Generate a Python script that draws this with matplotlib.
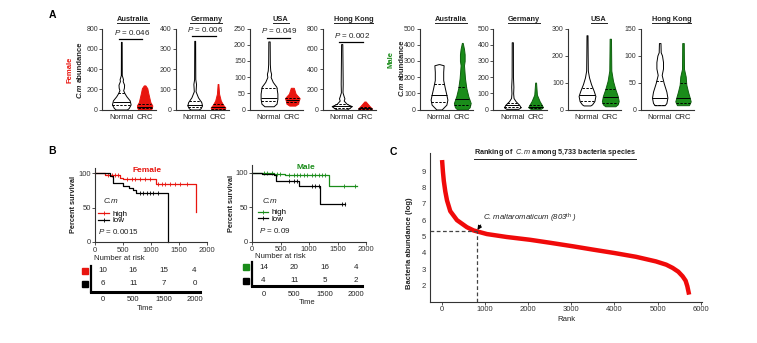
import numpy as np
import matplotlib
matplotlib.use('Agg')
import matplotlib.pyplot as plt
from matplotlib.lines import Line2D
from matplotlib.transforms import blended_transform_factory

plt.rcParams['font.family'] = ['Liberation Sans', 'DejaVu Sans']
plt.rcParams['mathtext.fontset'] = 'custom'
plt.rcParams['mathtext.rm'] = 'Liberation Sans'
plt.rcParams['mathtext.it'] = 'Liberation Sans:italic'
plt.rcParams['mathtext.bf'] = 'Liberation Sans:bold'

# ---------------- data ----------------
countries = ['Australia', 'Germany', 'USA', 'Hong Kong']
groups = ['Normal', 'CRC']

female_ymax = [800, 400, 250, 800]
female_ystep = [200, 100, 50, 200]
female_pvals = ['0.046', '0.006', '0.049', '0.002']
female_pbar = [700, 365, 222, 670]
male_ymax = [500, 500, 300, 150]
male_ystep = [100, 100, 100, 50]

# violin outlines: abundance levels and relative half-widths; quartiles (q1, median, q3)
female_normal_levels = [[0, 15, 50, 90, 130, 160, 190, 215, 245, 280, 300, 340, 668],
                        [0, 6, 20, 36, 60, 90, 126, 150, 339],
                        [10, 18, 33, 49, 70, 85, 100, 110, 120, 140, 210],
                        [0, 13, 33, 56, 88, 110, 130, 170, 252, 646]]
female_normal_widths = [[0.6, 0.8, 1.0, 0.9, 0.55, 0.35, 0.2, 0.28, 0.3, 0.15, 0.18, 0.05, 0.04],
                        [0.55, 0.8, 1.0, 0.9, 0.45, 0.12, 0.18, 0.08, 0.06],
                        [0.55, 0.9, 1.0, 1.0, 0.88, 0.45, 0.2, 0.25, 0.15, 0.1, 0.08],
                        [0.5, 0.73, 1.0, 0.5, 0.2, 0.27, 0.2, 0.08, 0.1, 0.06]]
female_normal_quart = [(45, 75, 160), (11, 23, 40), (25, 35, 65), (18, 33, 50)]

female_crc_levels = [[0, 13, 40, 73, 122, 172, 210, 238],
                     [0, 10, 23, 44, 77, 100, 126],
                     [12, 18, 25, 35, 49, 60, 67],
                     [0, 13, 33, 56, 79]]
female_crc_widths = [[0.8, 0.95, 1.0, 0.75, 0.6, 0.45, 0.35, 0.1],
                     [0.9, 1.0, 0.7, 0.38, 0.15, 0.1, 0.05],
                     [0.4, 0.8, 0.85, 1.0, 0.45, 0.3, 0.2],
                     [1.0, 1.0, 0.7, 0.4, 0.1]]
female_crc_quart = [(10, 25, 55), (4, 12, 28), (22, 28, 35), (5, 12, 25)]

male_normal_levels = [[0, 10, 30, 61, 91, 132, 182, 233, 273, 280],
                      [4, 14, 30, 51, 71, 100, 140, 200, 415],
                      [15, 19, 31, 50, 69, 94, 119, 144, 200, 275],
                      [8, 12, 22, 33, 49, 64, 76, 88, 100, 106, 123]]
male_normal_widths = [[0.32, 0.5, 0.88, 1.0, 0.88, 0.7, 0.5, 0.5, 0.55, 0.05],
                      [0.72, 1.0, 0.8, 0.4, 0.15, 0.1, 0.13, 0.08, 0.07],
                      [0.4, 0.6, 0.88, 1.0, 0.8, 0.48, 0.24, 0.1, 0.08, 0.06],
                      [0.65, 0.87, 1.0, 0.87, 0.52, 0.26, 0.43, 0.43, 0.3, 0.13, 0.1]]
male_normal_quart = [(45, 87, 160), (14, 26, 40), (31, 54, 81), (9, 22, 52)]

male_crc_levels = [[0, 14, 40, 81, 132, 192, 273, 300, 340, 374, 411],
                   [4, 14, 30, 51, 91, 166],
                   [12, 19, 31, 50, 75, 106, 144, 200, 262],
                   [8, 15, 22, 33, 46, 61, 75, 90, 123]]
male_crc_widths = [[0.6, 0.88, 1.0, 0.72, 0.48, 0.32, 0.2, 0.28, 0.28, 0.2, 0.05],
                   [0.7, 1.0, 0.82, 0.55, 0.18, 0.06],
                   [0.6, 0.88, 1.0, 0.88, 0.6, 0.32, 0.12, 0.1, 0.08],
                   [0.78, 1.0, 0.87, 0.65, 0.43, 0.35, 0.13, 0.12, 0.1]]
male_crc_quart = [(26, 65, 140), (8, 14, 25), (25, 46, 75), (12, 22, 50)]

# survival (days, percent) and censoring times
f_high_t = [0, 180, 450, 510, 1086, 1809]
f_high_s = [100, 98, 94, 91.5, 85, 43]
f_high_cens = [239, 299, 358, 418, 567, 657, 716, 806, 896, 985, 1134, 1194, 1254, 1343, 1433, 1522, 1642]
f_low_t = [0, 270, 330, 507, 615, 675, 734, 1301]
f_low_s = [100, 96.5, 85.5, 82, 79, 76, 71.5, 0]
f_low_cens = [806, 866, 925, 985, 1045, 1134]
m_high_t = [0, 87, 379, 583, 1341, 1837]
m_high_s = [100, 99, 98, 96, 80.5, 80.5]
m_high_cens = [204, 262, 350, 437, 496, 641, 729, 787, 845, 904, 962, 1050, 1108, 1166, 1224, 1283, 1603, 1808]
m_low_t = [0, 175, 379, 426, 816, 1184, 1633]
m_low_s = [100, 98, 96, 87.8, 80.5, 54.6, 54.6]
m_low_cens = [641, 729, 787, 1050, 1108, 1166, 1574, 1633]

risk_times = ['0', '500', '1500', '2000']
f_risk_high = [10, 16, 15, 4]
f_risk_low = [6, 11, 7, 0]
m_risk_high = [14, 20, 16, 4]
m_risk_low = [4, 11, 5, 2]

# species ranking curve
rank = [0, 20, 40, 75, 115, 190, 345, 575, 730, 1040, 1500, 2040, 2500, 3040, 3500,
        4000, 4500, 4960, 5200, 5350, 5480, 5580, 5650, 5690, 5731]
abundance = [9.67, 8.95, 8.4, 7.75, 7.2, 6.55, 6.0, 5.57, 5.37, 5.15, 4.97, 4.80, 4.62, 4.40, 4.2,
             3.99, 3.76, 3.48, 3.28, 3.08, 2.85, 2.57, 2.3, 1.96, 1.45]
cm_rank = 803
cm_abundance = 5.33

RED = '#e8150f'
GREEN = '#1a8c1a'
DARK = '#333333'

W, H = 757, 343
fig = plt.figure(figsize=(W / 100, H / 100), dpi=100)


def px_axes(x0, y0, x1, y1):
    return fig.add_axes([x0 / W, 1 - y1 / H, (x1 - x0) / W, (y1 - y0) / H])


def fy(y):
    return 1 - y / H


def style_axes(ax, fs=5):
    for s in ['top', 'right']:
        ax.spines[s].set_visible(False)
    for s in ['left', 'bottom']:
        ax.spines[s].set_linewidth(0.8)
        ax.spines[s].set_color(DARK)
    ax.tick_params(labelsize=fs, colors=DARK, length=2, width=0.6, pad=1)


underlined = []


def violin_panel(ax, lv, wd, qt, maxw, crc_fc, crc_ec, ymax, ystep, title, pval=None, pbar=None):
    stats = []
    for levels, widths, q in zip(lv, wd, qt):
        stats.append(dict(coords=np.array(levels, float), vals=np.array(widths, float),
                          mean=q[1], median=q[1], min=levels[0], max=levels[-1]))
    parts = ax.violin(stats, positions=[0, 1], widths=maxw,
                      showmeans=False, showextrema=False, showmedians=False)
    for body, fc, ec in zip(parts['bodies'], ['white', crc_fc], ['black', crc_ec]):
        body.set_facecolor(fc)
        body.set_edgecolor(ec)
        body.set_alpha(1)
        body.set_linewidth(0.7)
    for pos, st, w, q in zip([0, 1], stats, maxw, qt):
        for k, val in enumerate(q):
            half = 0.5 * w * np.interp(val, st['coords'], st['vals']) / st['vals'].max()
            ax.hlines(val, pos - half, pos + half, colors='black', lw=0.7,
                      linestyles='solid' if k == 1 else (0, (2.5, 1.5)))
    style_axes(ax)
    ax.set_xlim(-0.82, 1.48)
    ax.set_ylim(0, ymax)
    ax.set_yticks(np.arange(0, ymax + 1, ystep))
    ax.set_xticks([0, 1])
    ax.set_xticklabels(groups, fontsize=5.5, color='#222222')
    ax.tick_params(axis='x', length=0, pad=3)
    tr = blended_transform_factory(ax.transData, ax.transAxes)
    t = ax.text(0.5, 1.115, title, transform=tr, ha='center', va='center',
                fontsize=5.3, fontweight='bold', color='#222222')
    underlined.append(t)
    if pval is not None:
        ax.plot([-0.1, 0.9], [pbar, pbar], color='black', lw=0.9, clip_on=False)
        ax.annotate(r'$\it{P}$ = ' + pval, (0.45, pbar), xytext=(0, 1.5), textcoords='offset points',
                    ha='center', va='bottom', fontsize=5.8, color='#222222', annotation_clip=False)


# ---------------- panel A ----------------
fem_pos0 = [121.3, 194.7, 269.0, 341.7]
male_pos0 = [439.0, 512.3, 587.0, 659.7]
unit = 23.3
f_maxw = [(0.8, 0.66), (0.63, 0.63), (0.72, 0.63), (0.86, 0.57)]
m_maxw = [(0.72, 0.72), (0.72, 0.63), (0.72, 0.72), (0.66, 0.66)]

for i in range(4):
    x0 = fem_pos0[i] - 0.82 * unit
    ax = px_axes(x0, 28.5, x0 + 2.3 * unit, 109.5)
    violin_panel(ax, [female_normal_levels[i], female_crc_levels[i]],
                 [female_normal_widths[i], female_crc_widths[i]],
                 [female_normal_quart[i], female_crc_quart[i]], f_maxw[i],
                 RED, RED, female_ymax[i], female_ystep[i], countries[i],
                 female_pvals[i], female_pbar[i])
for i in range(4):
    x0 = male_pos0[i] - 0.82 * unit
    ax = px_axes(x0, 28.5, x0 + 2.3 * unit, 109.5)
    violin_panel(ax, [male_normal_levels[i], male_crc_levels[i]],
                 [male_normal_widths[i], male_crc_widths[i]],
                 [male_normal_quart[i], male_crc_quart[i]], m_maxw[i],
                 GREEN, '#0f5f0f', male_ymax[i], male_ystep[i], countries[i])


def abundance_label(x, y_split):
    fig.text(x / W, fy(y_split), 'C.m', rotation=90, rotation_mode='anchor', ha='right', va='center',
             fontsize=5.5, fontweight='bold', fontstyle='italic', color='#222222')
    fig.text(x / W, fy(y_split - 2), 'abundance', rotation=90, rotation_mode='anchor', ha='left',
             va='center', fontsize=5.5, fontweight='bold', color='#222222')


abundance_label(80, 84)
abundance_label(402, 82)
fig.text(70 / W, fy(70), 'Female', rotation=90, ha='center', va='center', fontsize=5.5,
         fontweight='bold', color=RED)
fig.text(391 / W, fy(59), 'Male', rotation=90, ha='center', va='center', fontsize=5.5,
         fontweight='bold', color=GREEN)

for letter, (lx, ly) in zip('ABC', [(52, 15), (52, 151), (393, 152)]):
    fig.text(lx / W, fy(ly), letter, ha='center', va='center', fontsize=7.5, fontweight='bold')


# ---------------- panel B ----------------
def step_at(t, s, at):
    idx = np.searchsorted(t, at, side='right') - 1
    return np.asarray(s)[idx]


def km_panel(ax, hi_t, hi_s, hi_c, lo_t, lo_s, lo_c, hi_color, ytop, title, title_xy, pval,
             cm_xy, leg_anchor, p_xy, xpad):
    for t, s, c, col in [(hi_t, hi_s, hi_c, hi_color), (lo_t, lo_s, lo_c, 'black')]:
        ax.step(t, s, where='post', color=col, lw=0.9, clip_on=False)
        ax.plot(c, step_at(t, s, c), ls='none', marker='|', ms=2.5, mew=0.6, color=col, clip_on=False)
    style_axes(ax, 5.5)
    ax.set_xlim(0, 2000)
    ax.set_ylim(0, ytop)
    ax.set_xticks([0, 500, 1000, 1500, 2000])
    ax.set_yticks([0, 50, 100])
    ax.tick_params(axis='x', pad=xpad)
    ax.set_ylabel('Percent survival', fontsize=5.3, fontweight='bold', labelpad=1, color='#222222')
    ax.text(*title_xy, title, ha='center', va='center', fontsize=6, fontweight='bold', color=hi_color)
    ax.text(*cm_xy, 'C.m', transform=ax.transAxes, ha='center', va='center', fontsize=5.8,
            fontstyle='italic', color='#222222')
    handles = [Line2D([], [], color=hi_color, lw=0.9, marker='|', ms=3, mew=0.6),
               Line2D([], [], color='black', lw=0.9, marker='|', ms=3, mew=0.6)]
    ax.legend(handles, ['high', 'low'], loc='upper left', bbox_to_anchor=leg_anchor, frameon=False,
              fontsize=5.8, handlelength=1.3, handletextpad=0.4, labelspacing=-0.1,
              borderpad=0, borderaxespad=0)
    ax.text(*p_xy, r'$\it{P}$ = ' + pval, transform=ax.transAxes, ha='left', va='center',
            fontsize=5.8, color='#222222')


ax_f = px_axes(95, 168, 206.7, 241.7)
km_panel(ax_f, f_high_t, f_high_s, f_high_cens, f_low_t, f_low_s, f_low_cens, RED, 108,
         'Female', (925, 105), '0.0015', (0.14, 0.54), (0.03, 0.43), (0.03, 0.145), 1.6)
ax_m = px_axes(252, 165, 366.3, 241.7)
km_panel(ax_m, m_high_t, m_high_s, m_high_cens, m_low_t, m_low_s, m_low_cens, GREEN, 111,
         'Male', (945, 108), '0.09', (0.155, 0.52), (0.05, 0.43), (0.06, 0.15), 0.8)
ax_m.yaxis.labelpad = 0


def risk_table(rect, hi, lo, hi_color, ylim, sq_x, lab_y):
    ax = px_axes(*rect)
    for s in ['top', 'right']:
        ax.spines[s].set_visible(False)
    ax.spines['left'].set_linewidth(1.6)
    ax.spines['bottom'].set_linewidth(2.2)
    ax.set_xlim(-0.38, 3.18)
    ax.set_ylim(*ylim)
    for j in range(4):
        ax.text(j, 1, str(hi[j]), ha='center', va='center', fontsize=5.8, color='#222222')
        ax.text(j, 0, str(lo[j]), ha='center', va='center', fontsize=5.8, color='#222222')
    ax.plot([sq_x], [1], marker='s', ms=4.3, color=hi_color, clip_on=False)
    ax.plot([sq_x], [0], marker='s', ms=4.3, color='black', clip_on=False)
    ax.set_xticks(range(4))
    ax.set_xticklabels(risk_times, fontsize=5.5, color='#222222')
    ax.set_yticks([])
    ax.tick_params(axis='x', length=0, pad=lab_y)
    ax.set_xlabel('Time', fontsize=5.5, labelpad=1, color='#222222')
    return ax


risk_table((91, 266, 200, 292), f_risk_high, f_risk_low, RED, (-0.62, 1.38), -0.57, 3.2)
risk_table((251.7, 261.7, 361.7, 286), m_risk_high, m_risk_low, GREEN, (-0.36, 1.38), -0.55, 3.5)
fig.text(94 / W, fy(259), 'Number at risk', ha='left', va='center', fontsize=5.6, color='#222222')
fig.text(255 / W, fy(257), 'Number at risk', ha='left', va='center', fontsize=5.6, color='#222222')

# ---------------- panel C ----------------
axc = px_axes(430, 153, 702, 302)
axc.plot(rank, abundance, color='#f00a0a', lw=3.2, solid_capstyle='butt', solid_joinstyle='round')
axc.set_xlim(-280, 6030)
axc.set_ylim(1.0, 10.1)
axc.plot([-280, cm_rank], [cm_abundance, cm_abundance], color='#444444', lw=0.9, ls=(0, (3, 2)))
axc.plot([cm_rank, cm_rank], [1.0, cm_abundance], color='#444444', lw=0.9, ls=(0, (3, 2)))
axc.annotate(r'C. maltaromaticum (803$^{\rm th}$ )', (cm_rank, cm_abundance), xytext=(960, 6.12),
             ha='left', va='center', fontsize=5.6, fontstyle='italic', color='#222222',
             arrowprops=dict(arrowstyle='-|>', color='black', lw=0.8, mutation_scale=6,
                             shrinkA=0, shrinkB=1, relpos=(0, 0.3)))
style_axes(axc, 5.5)
axc.set_xticks(range(0, 6001, 1000))
axc.set_yticks(range(2, 10))
axc.tick_params(axis='y', length=0, pad=3)
axc.set_xlabel('Rank', fontsize=5.6, labelpad=2, color='#222222')
fig.text(410 / W, fy(243), 'Bacteria abundance (log)', rotation=90, ha='center', va='center',
         fontsize=5.5, fontweight='bold', color='#222222')
tc = fig.text(555 / W, fy(153), r'Ranking of  $\it{C.m}$ among 5,733 bacteria species',
              ha='center', va='center', fontsize=5.2, fontweight='bold', color='#222222')
underlined.append(tc)

# underline the small titles
fig.canvas.draw()
inv = fig.transFigure.inverted()
for t in underlined:
    bb = t.get_window_extent()
    (x0, y0), (x1, _) = inv.transform([(bb.x0, bb.y0 - 0.3), (bb.x1, bb.y0)])
    fig.add_artist(Line2D([x0, x1], [y0, y0], transform=fig.transFigure, color='#222222', lw=0.7))

fig.savefig('out.png', dpi=100)
